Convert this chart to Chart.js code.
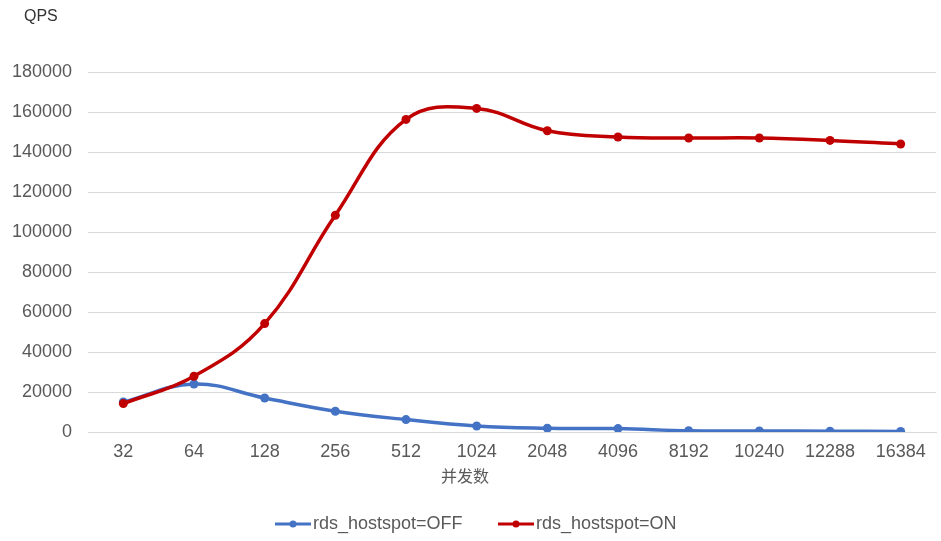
<!DOCTYPE html>
<html>
<head>
<meta charset="utf-8">
<script src="https://cdn.jsdelivr.net/npm/chart.js@4.4.1/dist/chart.umd.min.js"></script>
<style>
  html, body { margin: 0; padding: 0; background: #fff; }
  #wrap { width: 941px; height: 541px; }
</style>
</head>
<body>
<div id="wrap"><canvas id="QpsChart" width="941" height="541"></canvas></div>
<script>
// data
var concurrency = ['32', '64', '128', '256', '512', '1024', '2048', '4096', '8192', '10240', '12288', '16384'];
var qps_off = [15000, 24000, 17000, 10400, 6200, 3000, 1900, 1700, 600, 500, 400, 300];
var qps_on = [14200, 27900, 54200, 108400, 156300, 161800, 150600, 147500, 147000, 147000, 145800, 144000];
var series_names = ['rds_hostspot=OFF', 'rds_hostspot=ON'];
var series_colors = ['#4472C4', '#C00000'];

var textFont = '"Liberation Sans", Arial, sans-serif';

// QPS label, x axis title and the legend (line + dot)
var extraText = {
  id: 'extraText',
  afterDraw: function(chart) {
    var ctx = chart.ctx;
    ctx.save();
    ctx.fillStyle = '#333333';
    ctx.font = '16px ' + textFont;
    ctx.textBaseline = 'middle';
    ctx.textAlign = 'left';
    ctx.fillText('QPS', 24, 17);

    ctx.fillStyle = '#595959';
    ctx.font = '16px "Noto Sans CJK SC", sans-serif';
    ctx.textAlign = 'center';
    ctx.fillText('并发数', 465, 476);

    var legendX = [275, 498];
    ctx.font = '18px ' + textFont;
    ctx.textAlign = 'left';
    for (var i = 0; i < series_names.length; i++) {
      var x = legendX[i], y = 524;
      ctx.strokeStyle = series_colors[i];
      ctx.lineWidth = 3;
      ctx.beginPath();
      ctx.moveTo(x, y);
      ctx.lineTo(x + 36, y);
      ctx.stroke();
      ctx.fillStyle = series_colors[i];
      ctx.beginPath();
      ctx.arc(x + 18, y, 3.5, 0, Math.PI * 2);
      ctx.fill();
      ctx.fillStyle = '#595959';
      ctx.fillText(series_names[i], x + 38, y);
    }
    ctx.restore();
  }
};

var qpsCanvas = document.getElementById('QpsChart').getContext('2d');
var qps_chart = new Chart(qpsCanvas, {
  type: 'line',
  data: {
    labels: concurrency,
    datasets: [
      {
        label: series_names[0],
        data: qps_off,
        borderColor: series_colors[0],
        backgroundColor: series_colors[0],
        borderWidth: 3.5,
        pointRadius: 4.5,
        pointBorderWidth: 0,
        tension: 0.4,
        fill: false,
        order: 1
      },
      {
        label: series_names[1],
        data: qps_on,
        borderColor: series_colors[1],
        backgroundColor: series_colors[1],
        borderWidth: 3.5,
        pointRadius: 4.5,
        pointBorderWidth: 0,
        tension: 0.4,
        fill: false,
        order: 0
      }
    ]
  },
  options: {
    responsive: false,
    animation: false,
    layout: { padding: { top: 72, left: 0, right: 5, bottom: 0 } },
    plugins: {
      legend: { display: false },
      tooltip: { enabled: false }
    },
    scales: {
      x: {
        offset: true,
        grid: { display: false, drawTicks: false },
        border: { display: true, color: '#d9d9d9', width: 1 },
        ticks: { color: '#595959', font: { family: textFont, size: 18 }, padding: 9, maxRotation: 0, autoSkip: false },
        afterFit: function(s) { s.height = 109; }
      },
      y: {
        min: 0,
        max: 180000,
        ticks: {
          stepSize: 20000,
          color: '#595959',
          font: { family: textFont, size: 18 },
          padding: 16,
          callback: function(v) { return String(v); }
        },
        grid: { color: '#d9d9d9', drawTicks: false },
        border: { display: false },
        afterFit: function(s) { s.width = 88; }
      }
    }
  },
  plugins: [extraText]
});
</script>
</body>
</html>
